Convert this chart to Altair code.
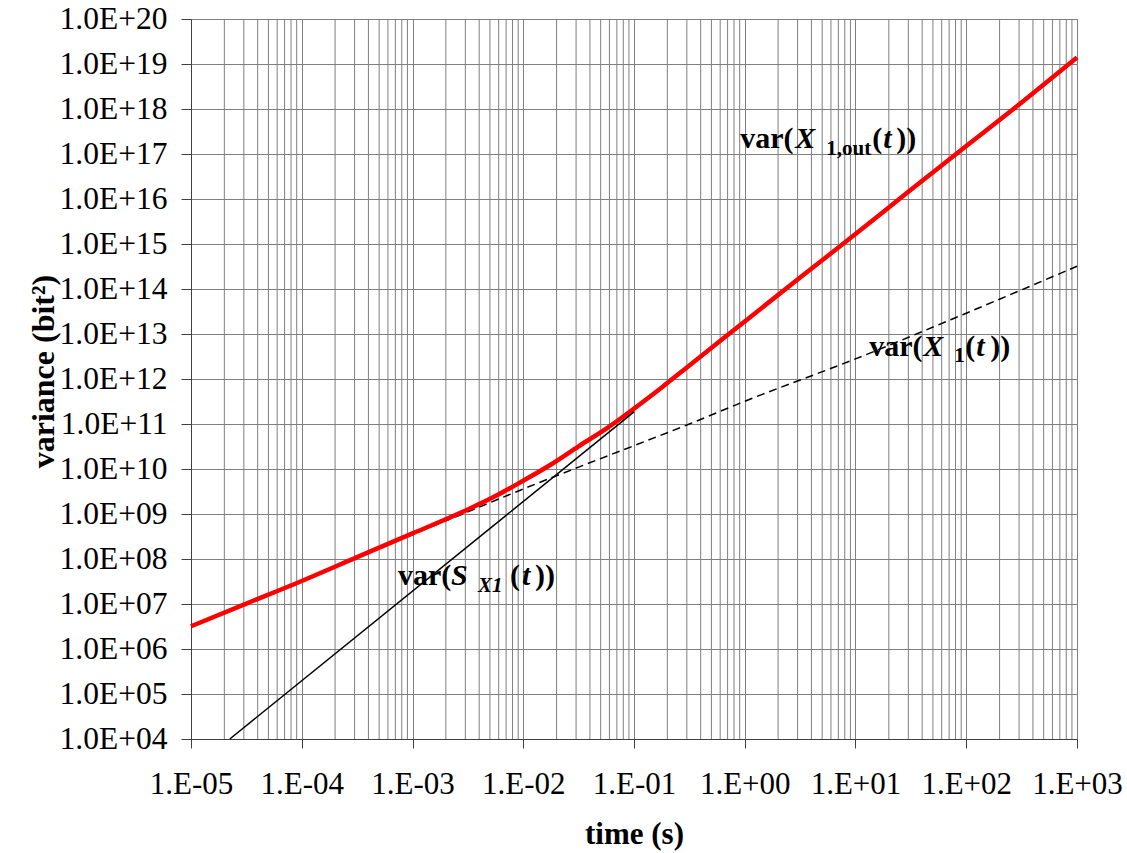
import altair as alt
import pandas as pd

# ---- data: time (s) and variance (bit^2) ----
# var(X1,out(t)) : output variance
t_out = [1e-5, 3.16e-5, 1e-4, 3.16e-4, 1e-3, 3.16e-3, 5.62e-3, 1e-2, 1.78e-2,
         3.16e-2, 5.62e-2, 0.1, 0.178, 0.316, 1, 3.16, 10, 31.6, 100, 316, 1000]
var_out = [3.2e6, 1.02e7, 3.25e7, 1.1e8, 3.7e8, 1.26e9, 2.5e9, 5.5e9, 1.26e10,
           3.2e10, 7.9e10, 2.2e11, 6.5e11, 2.0e12, 1.9e13, 1.8e14, 1.66e15,
           1.6e16, 1.5e17, 1.4e18, 1.4e19]

# var(X1(t)) : dashed curve
t_x1 = [1e-5, 1e-4, 1e-3, 3.16e-3, 1e-2, 3.16e-2, 0.1, 0.316, 1, 10, 100, 1000]
var_x1 = [3.16e6, 3.2e7, 3.5e8, 1.12e9, 3.6e9, 1.1e10, 3.3e10, 1.0e11, 3.2e11,
          2.8e12, 2.9e13, 3.2e14]

# var(S_X1(t)) : straight line of slope 2
t_s = [2.24e-5, 0.1]
var_s = [1.0e4, 1.86e11]

x_ticks = [1e-5, 1e-4, 1e-3, 1e-2, 1e-1, 1e0, 1e1, 1e2, 1e3]
y_ticks = [10.0 ** k for k in range(4, 21)]
x_minor = [m * 10.0 ** k for k in range(-5, 3) for m in range(2, 10)]

FONT = "Liberation Serif"
GRID = "#7f7f7f"
W, H = 886, 720

xscale = alt.Scale(type="log", domain=[1e-5, 1e3], nice=False)
yscale = alt.Scale(type="log", domain=[1e4, 1e20], nice=False)

exp_expr = "round(log(datum.value)/LN10)"
x_label = ("'1.E' + (" + exp_expr + " < 0 ? '-' : '+') + (abs(" + exp_expr +
           ") < 10 ? '0' : '') + abs(" + exp_expr + ")")
y_label = "'1.0E+' + (" + exp_expr + " < 10 ? '0' : '') + " + exp_expr

x_axis = alt.Axis(
    values=x_ticks, labelExpr=x_label, grid=True, gridColor=GRID, gridWidth=1,
    tickSize=9, tickColor="#404040", domainColor="#404040",
    labelFont=FONT, labelFontSize=31, labelColor="black", labelPadding=21,
    labelFlush=False, labelOverlap=False,
    title="time (s)", titleFont=FONT, titleFontSize=31, titleFontWeight="bold",
    titleColor="black", titleBaseline="alphabetic", titleX=W / 2, titleY=104,
)
y_axis = alt.Axis(
    values=y_ticks, labelExpr=y_label, grid=True, gridColor=GRID, gridWidth=1,
    tickSize=10, tickColor="#404040", domainColor="#404040",
    labelFont=FONT, labelFontSize=31.5, labelColor="black", labelPadding=14,
    labelOverlap=False, labelFlush=False,
    title="variance (bit²)", titleFont=FONT, titleFontSize=32,
    titleFontWeight="bold", titleColor="black", titleAngle=270,
    titleBaseline="alphabetic", titleX=-138, titleY=352,
)


def enc(field_x="t", field_y="v"):
    return dict(
        x=alt.X(field_x + ":Q", scale=xscale, axis=x_axis),
        y=alt.Y(field_y + ":Q", scale=yscale, axis=y_axis),
    )


# minor vertical gridlines (2..9 in every decade)
minor_grid = alt.Chart(pd.DataFrame({"t": x_minor})).mark_rule(
    color=GRID, strokeWidth=1
).encode(
    x=alt.X("t:Q", scale=xscale, axis=x_axis),
    y=alt.value(0),
    y2=alt.value(H),
)

dashed = alt.Chart(pd.DataFrame({"t": t_x1, "v": var_x1})).mark_line(
    color="black", strokeWidth=1.5, strokeDash=[8, 5], interpolate="monotone"
).encode(**enc())

red = alt.Chart(pd.DataFrame({"t": t_out, "v": var_out})).mark_line(
    color="#ff0000", strokeWidth=4.5, interpolate="monotone"
).encode(**enc())

black = alt.Chart(pd.DataFrame({"t": t_s, "v": var_s})).mark_line(
    color="black", strokeWidth=1.5
).encode(**enc())


def label(t, v, pieces):
    """Rich text label built from pieces: (text, dx, dy, size, italic)."""
    layers = []
    for text, dx, dy, size, italic in pieces:
        layers.append(
            alt.Chart(pd.DataFrame({"t": [t], "v": [v]})).mark_text(
                text=text, font=FONT, fontSize=size, fontWeight="bold",
                fontStyle="italic" if italic else "normal", color="black",
                align="left", baseline="alphabetic", dx=dx, dy=dy,
            ).encode(**enc())
        )
    return layers


lab_out = label(0.91, 1.35e17, [
    ("var(", 0, 0, 30, False), ("X", 55, 0, 30, True),
    ("1,out", 86, 7, 21, False), ("(", 132, 0, 30, False),
    ("t", 143, 0, 30, True), ("))", 156, 0, 30, False),
])
lab_x1 = label(13.3, 3.2e12, [
    ("var(", 0, 0, 30, False), ("X", 54, 0, 30, True),
    ("1", 85, 6, 21, False), ("(", 96, 0, 30, False),
    ("t", 107, 0, 30, True), ("))", 121, 0, 30, False),
])
lab_s = label(7.4e-4, 2.6e7, [
    ("var(", 0, 0, 30, False), ("S", 53, 0, 30, True),
    ("X1", 80, 7, 21, True), ("(", 112, 0, 30, False),
    ("t", 124, 0, 30, True), ("))", 137, 0, 30, False),
])

chart = alt.layer(
    minor_grid, dashed, red, black, *lab_out, *lab_x1, *lab_s
).properties(
    width=W, height=H,
    padding={"left": 191, "top": 19, "right": 50, "bottom": 114},
    autosize=alt.AutoSizeParams(type="none"),
    background="white",
).configure_view(stroke=GRID, strokeWidth=1)

chart.save("out.html", embed_options={"renderer": "svg", "actions": False})
